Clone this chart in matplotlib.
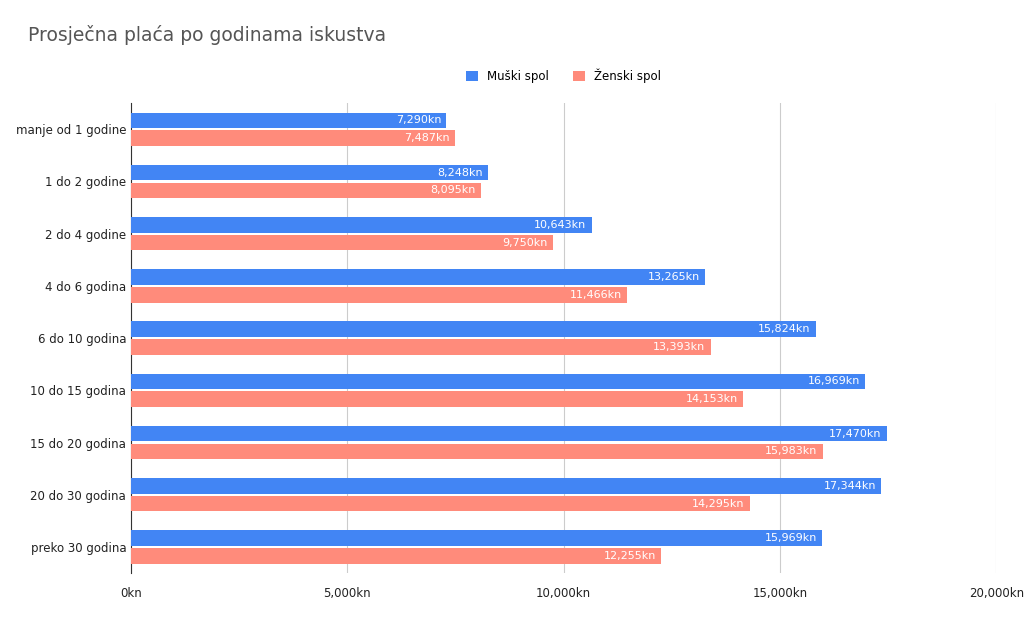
import numpy as np
import matplotlib.pyplot as plt
from matplotlib.ticker import FuncFormatter

categories = ["manje od 1 godine", "1 do 2 godine", "2 do 4 godine", "4 do 6 godina",
              "6 do 10 godina", "10 do 15 godina", "15 do 20 godina",
              "20 do 30 godina", "preko 30 godina"]
muski = [7290, 8248, 10643, 13265, 15824, 16969, 17470, 17344, 15969]
zenski = [7487, 8095, 9750, 11466, 13393, 14153, 15983, 14295, 12255]

blue = "#4285F4"
salmon = "#FF8B7B"

fig = plt.figure(figsize=(10.24, 6.29), dpi=100)
ax = fig.add_axes([0.128, 0.089, 0.845, 0.747])

y = np.arange(len(categories))
h = 0.3
ax.barh(y - 0.17, muski, height=h, color=blue, label="Muški spol", zorder=3)
ax.barh(y + 0.17, zenski, height=h, color=salmon, label="Ženski spol", zorder=3)

for yi, m, z in zip(y, muski, zenski):
    ax.text(m - 120, yi - 0.17, f"{m:,}kn", color="white", fontsize=8,
            ha="right", va="center", zorder=4)
    ax.text(z - 120, yi + 0.17, f"{z:,}kn", color="white", fontsize=8,
            ha="right", va="center", zorder=4)

ax.set_xlim(0, 20000)
ax.set_ylim(len(categories) - 0.5, -0.5)
ax.set_xticks([0, 5000, 10000, 15000, 20000])
ax.xaxis.set_major_formatter(FuncFormatter(lambda v, p: f"{int(v):,}kn"))
ax.set_yticks(y)
ax.set_yticklabels(categories)
ax.tick_params(axis="both", length=0, labelsize=8.5, colors="#222222")
ax.tick_params(axis="x", pad=10)
ax.grid(axis="x", color="#cccccc", linewidth=0.8, zorder=0)
for s in ["top", "right", "bottom"]:
    ax.spines[s].set_visible(False)
ax.spines["left"].set_color("#333333")

fig.text(0.027, 0.935, "Prosječna plaća po godinama iskustva", fontsize=13.5, color="#555555")
ax.legend(loc="lower center", bbox_to_anchor=(0.5, 1.02), ncol=2, frameon=False,
          fontsize=8.5, handlelength=1, handleheight=1, columnspacing=2)

fig.savefig("out.png", dpi=100)
